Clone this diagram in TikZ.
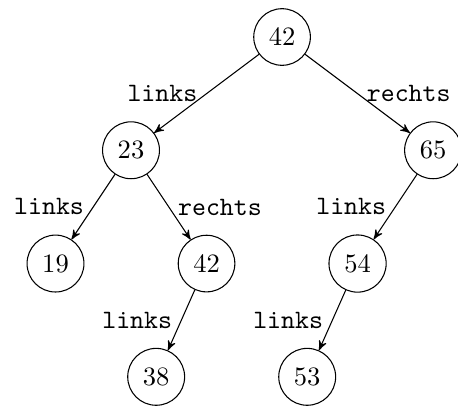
\documentclass[tikz,border=0pt]{standalone}
\usetikzlibrary{arrows}
\begin{document}
\begin{tikzpicture}[knoten/.style = {circle, draw}, kante/.style = {->, >=stealth'}]
                   \useasboundingbox (-3.735,-4.874) rectangle (2.33,0.49);

                   \node[knoten] (w42) at (0,0)         {42};
                   \node[knoten] (k23) at (-2,-1.5)     {23};
                   \node[knoten] (k65) at (2,-1.5)      {65};
                   \node[knoten] (k19) at (-3,-3)       {19};
                   \node[knoten] (k42) at (-1,-3)       {42};
                   \node[knoten] (k54) at (1,-3)        {54};
                   \node[knoten] (k38) at (-1.667,-4.5) {38};
                   \node[knoten] (k53) at (0.333,-4.5)  {53};

                   \draw[kante] (w42) -- node[left]  {\texttt{links}}  (k23);
                   \draw[kante] (w42) -- node[right] {\texttt{rechts}} (k65);
                   \draw[kante] (k23) -- node[left]  {\texttt{links}}  (k19);
                   \draw[kante] (k23) -- node[right] {\texttt{rechts}} (k42);
                   \draw[kante] (k65) -- node[left]  {\texttt{links}}  (k54);
                   \draw[kante] (k42) -- node[left]  {\texttt{links}}  (k38);
                   \draw[kante] (k54) -- node[left]  {\texttt{links}}  (k53);
        \end{tikzpicture}
\end{document}
